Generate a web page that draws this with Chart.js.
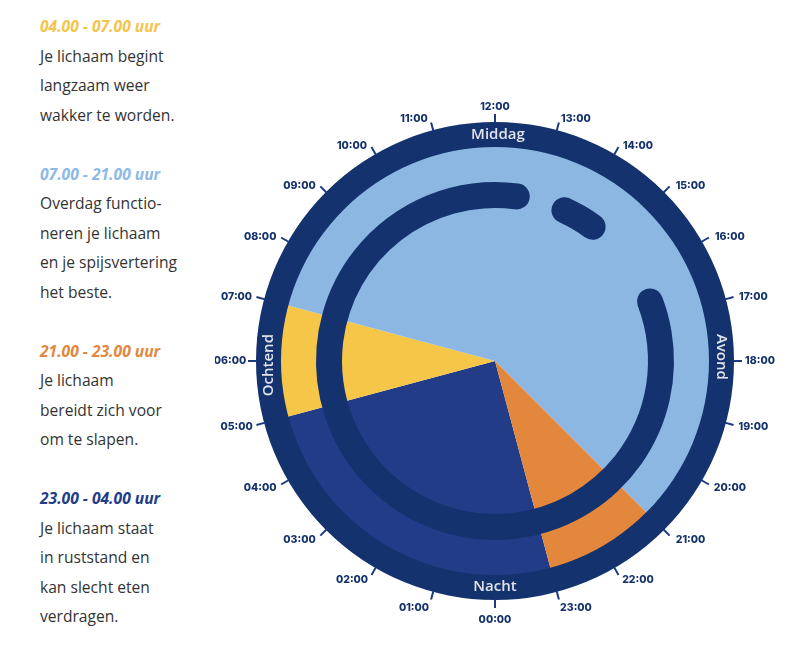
<!DOCTYPE html>
<html lang="nl">
<head>
<meta charset="utf-8">
<title>Lichaamsklok</title>
<script src="https://cdn.jsdelivr.net/npm/chart.js@4"></script>
<style>
  html, body { margin: 0; padding: 0; background: #fff; }
  body { width: 800px; height: 645px; position: relative; overflow: hidden; }
  canvas { position: absolute; left: 215px; top: 81px; }
  #uitleg {
    position: absolute; left: 40px; top: 12.4px;
    font: 15.6px/29.5px "Open Sans", sans-serif; color: #333;
    white-space: nowrap;
  }
  #uitleg b { font-style: italic; display: block; }
  #uitleg p { margin: 0 0 29.5px 0; }
</style>
</head>
<body>
<div id="uitleg">
  <p><b style="color:#f5c44c">04.00 - 07.00 uur</b>Je lichaam begint<br>langzaam weer<br>wakker te worden.</p>
  <p><b style="color:#8db9e6">07.00 - 21.00 uur</b>Overdag functio-<br>neren je lichaam<br>en je spijsvertering<br>het beste.</p>
  <p><b style="color:#e2873c">21.00 - 23.00 uur</b>Je lichaam<br>bereidt zich voor<br>om te slapen.</p>
  <p><b style="color:#233c88">23.00 - 04.00 uur</b>Je lichaam staat<br>in ruststand en<br>kan slecht eten<br>verdragen.</p>
</div>
<canvas id="pieChart" width="560" height="560"></canvas>
<canvas id="ringChart" width="560" height="560"></canvas>
<canvas id="arcChart" width="560" height="560"></canvas>
<script>
// Taartdeel: uren per fase, vanaf 23:00
const phases = ['Rust', 'Ontwaken', 'Overdag', 'Avond'];
const phaseHours = [6, 2, 14, 2];
const phaseColors = ['#233c88', '#f6c649', '#8bb7e2', '#e2873c'];
const phaseStart = 23;

// Binnenste boog: begint om 16:18, afwisselend boog en opening
const arcHours = [20.5, 0.55, 1.35, 1.6];
const arcColors = ['#14326e', 'transparent', '#14326e', 'transparent'];
const arcStart = 16.3;

const hourLabels = ['00:00', '01:00', '02:00', '03:00', '04:00', '05:00', '06:00', '07:00',
    '08:00', '09:00', '10:00', '11:00', '12:00', '13:00', '14:00', '15:00',
    '16:00', '17:00', '18:00', '19:00', '20:00', '21:00', '22:00', '23:00'];
const dayParts = ['Nacht', 'Ochtend', 'Middag', 'Avond'];
const dayPartHours = [0, 5.93, 12.05, 17.93];

// Uur op de klok -> graden voor Chart.js (0 = boven, 12:00 staat boven)
function hourToRotation(hour) {
    return (hour - 12) * 15;
}

function makeRing(id, labels, data, colors, start, radius, inner, plugins) {
    const cutout = inner ? (inner / radius * 100) + '%' : 0;
    return new Chart(document.getElementById(id), {
        type: 'doughnut',
        data: {
            labels: labels,
            datasets: [{ data: data, backgroundColor: colors, borderWidth: 0, borderRadius: id === 'arcChart' ? 13 : 0 }]
        },
        options: {
            responsive: false,
            animation: false,
            events: [],
            radius: radius,
            cutout: cutout,
            rotation: hourToRotation(start),
            plugins: { legend: { display: false }, tooltip: { enabled: false } }
        },
        plugins: plugins || []
    });
}

// Streepjes, uurlabels en de namen op de ring
const clockFace = {
    id: 'clockFace',
    afterDraw(chart) {
        const { ctx, chartArea } = chart;
        const cx = (chartArea.left + chartArea.right) / 2;
        const cy = (chartArea.top + chartArea.bottom) / 2;
        ctx.save();
        hourLabels.forEach((label, hour) => {
            // 00:00 onder, 06:00 links, 18:00 rechts
            const angle = hour * Math.PI / 12;
            const sin = -Math.sin(angle);
            const cos = Math.cos(angle);
            ctx.strokeStyle = '#1c3a80';
            ctx.lineWidth = 2;
            ctx.beginPath();
            ctx.moveTo(cx + sin * 238, cy + cos * 238);
            ctx.lineTo(cx + sin * 247, cy + cos * 247);
            ctx.stroke();

            // labels staan naast het streepje, niet er precies in het verlengde
            const absSin = Math.abs(sin);
            const side = absSin < 0.01 ? 0 : Math.sign(sin);
            const rx = 251 + 8 * Math.abs(cos);
            let ry = cos > 0 ? 253 : 248;
            if (absSin < 0.01) ry += 6;
            else if (absSin < 0.3) ry += 3;
            ctx.fillStyle = '#15326c';
            ctx.font = '800 10.5px Inter, sans-serif';
            ctx.textAlign = 'center';
            ctx.textBaseline = 'middle';
            ctx.fillText(label, cx + sin * rx + side * 14, cy + cos * ry);
        });
        dayParts.forEach((name, i) => {
            const angle = dayPartHours[i] * Math.PI / 12;
            const sin = -Math.sin(angle);
            const cos = Math.cos(angle);
            ctx.save();
            ctx.translate(cx + sin * 226, cy + cos * 226);
            ctx.rotate(Math.abs(sin) > 0.5 ? Math.sign(sin) * Math.PI / 2 : 0);
            ctx.fillStyle = '#e1e4ea';
            ctx.font = '600 15px "Open Sans", sans-serif';
            ctx.textAlign = 'center';
            ctx.textBaseline = 'middle';
            ctx.fillText(name, 0, 0);
            ctx.restore();
        });
        ctx.restore();
    }
};

makeRing('pieChart', phases, phaseHours, phaseColors, phaseStart, 216, 0);
makeRing('ringChart', ['Ring'], [24], ['#14326e'], 0, 239, 214);
makeRing('arcChart', ['Boog', 'Open', 'Boog', 'Open'], arcHours, arcColors, arcStart, 179, 153, [clockFace]);
</script>
</body>
</html>
